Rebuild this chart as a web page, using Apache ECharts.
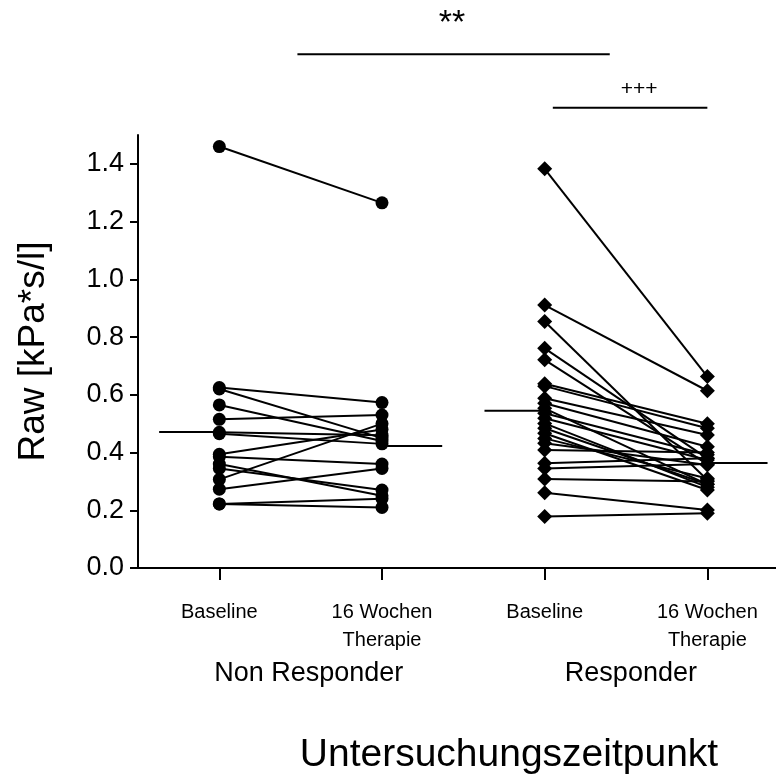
<!DOCTYPE html>
<html>
<head>
<meta charset="utf-8">
<script src="https://cdn.jsdelivr.net/npm/echarts@6/dist/echarts.min.js"></script>
<style>
  html, body { margin: 0; padding: 0; background: #fff; }
  #chart { width: 776px; height: 780px; }
</style>
</head>
<body>
<div id="chart"></div>
<script>
// Airway resistance (Raw) before and after 16 weeks of therapy, paired per patient
const timepoints = ['Baseline', '16 Wochen\nTherapie', 'Baseline', '16 Wochen\nTherapie'];
const groups = ['Non Responder', 'Responder'];
const groupLabelAt = [1.55, 3.53];

const nonResponderBaseline = [1.46, 0.625, 0.62, 0.565, 0.515, 0.47, 0.465, 0.394, 0.385, 0.36, 0.345, 0.307, 0.273, 0.222, 0.222];
const nonResponderWeek16   = [1.265, 0.573, 0.45, 0.44, 0.53, 0.46, 0.43, 0.48, 0.36, 0.25, 0.27, 0.50, 0.345, 0.21, 0.24];

const responderBaseline = [1.383, 0.911, 0.854, 0.761, 0.721, 0.638, 0.63, 0.588, 0.571, 0.553, 0.536, 0.519, 0.501, 0.484, 0.467, 0.449, 0.432, 0.409, 0.363, 0.345, 0.308, 0.261, 0.178];
const responderWeek16   = [0.663, 0.614, 0.305, 0.38, 0.36, 0.50, 0.484, 0.461, 0.42, 0.29, 0.392, 0.374, 0.28, 0.29, 0.27, 0.31, 0.357, 0.40, 0.38, 0.36, 0.30, 0.201, 0.19];

// group means, one per column
const groupMeans = [0.471, 0.423, 0.545, 0.364];

const yTicks = [0, 0.2, 0.4, 0.6, 0.8, 1.0, 1.2, 1.4];

// significance brackets above the plot
const significance = [
  { from: 1.48, to: 3.40, level: 1.78, labelX: 2.43, labelY: 1.885, text: '**', size: 34 },
  { from: 3.05, to: 4.00, level: 1.594, labelX: 3.58, labelY: 1.66, text: '+++', size: 21 }
];

const FONT = '"Liberation Sans", Arial, Helvetica, sans-serif';
const BLACK = '#000';

const chart = echarts.init(document.getElementById('chart'), null, { renderer: 'canvas' });

function pairSeries(before, after, xBefore, symbol, size) {
  return before.map((b, i) => ({
    type: 'line',
    data: [[xBefore, b], [xBefore + 1, after[i]]],
    symbol: symbol,
    symbolSize: size,
    showAllSymbol: true,
    itemStyle: { color: BLACK },
    lineStyle: { color: BLACK, width: 2 },
    animation: false,
    silent: true,
    z: 3
  }));
}

// mean bars sit on the outer side of each column
const meanWidth = 0.37;
const meanSeries = groupMeans.map((m, i) => {
  const x = i + 1;
  const outer = (i % 2 === 0) ? x - meanWidth : x + meanWidth;
  return {
    type: 'line',
    data: [[outer, m], [x, m]],
    symbol: 'none',
    lineStyle: { color: BLACK, width: 2 },
    animation: false,
    silent: true,
    z: 2
  };
});

const sigSeries = significance.map(s => ({
  type: 'line',
  data: [[s.from, s.level], [s.to, s.level]],
  symbol: 'none',
  clip: false,
  lineStyle: { color: BLACK, width: 2 },
  animation: false,
  silent: true
}));

const xMin = 0.5, xMax = 4.422;

chart.setOption({
  backgroundColor: '#fff',
  animation: false,
  textStyle: { fontFamily: FONT, color: BLACK },
  grid: { left: 138, right: 0, top: 135, bottom: 212, containLabel: false },
  xAxis: [
    {
      type: 'value', min: xMin, max: xMax,
      axisLine: { show: true, onZero: false, lineStyle: { color: BLACK, width: 2 } },
      splitLine: { show: false },
      axisTick: { show: true, customValues: [1, 2, 3, 4], length: 12, lineStyle: { color: BLACK, width: 2 } },
      axisLabel: {
        customValues: [1, 2, 3, 4],
        formatter: v => timepoints[Math.round(v) - 1],
        fontSize: 20, lineHeight: 28, margin: 30, color: BLACK, fontFamily: FONT
      }
    },
    {
      type: 'value', min: xMin, max: xMax, position: 'bottom',
      axisLine: { show: false }, axisTick: { show: false }, splitLine: { show: false },
      axisLabel: {
        customValues: groupLabelAt,
        formatter: v => groups[v < 2.5 ? 0 : 1],
        fontSize: 27, margin: 92, color: BLACK, fontFamily: FONT
      }
    }
  ],
  yAxis: {
    type: 'value', min: 0, max: 1.5,
    axisLine: { show: true, lineStyle: { color: BLACK, width: 2 } },
    splitLine: { show: false },
    axisTick: { show: true, customValues: yTicks, length: 8, lineStyle: { color: BLACK, width: 2 } },
    axisLabel: {
      customValues: yTicks,
      formatter: v => v.toFixed(1),
      fontSize: 27, margin: 14, color: BLACK, fontFamily: FONT
    },
    name: 'Raw [kPa*s/l]', nameLocation: 'middle', nameGap: 86, nameRotate: 90,
    nameTextStyle: { fontSize: 37, color: BLACK, fontFamily: FONT }
  },
  series: [
    ...meanSeries,
    ...pairSeries(nonResponderBaseline, nonResponderWeek16, 1, 'circle', 13),
    ...pairSeries(responderBaseline, responderWeek16, 3, 'diamond', 15),
    ...sigSeries
  ]
});

// significance markers and the x-axis title
chart.setOption({
  graphic: significance.map(s => {
    const p = chart.convertToPixel({ gridIndex: 0 }, [s.labelX, s.labelY]);
    return {
      type: 'text', x: p[0], y: p[1],
      style: { text: s.text, fontSize: s.size, fontFamily: FONT, fill: BLACK, align: 'center', verticalAlign: 'middle' }
    };
  }).concat([{
    type: 'text', x: 509, y: 755,
    style: { text: 'Untersuchungszeitpunkt', fontSize: 39, fontFamily: FONT, fill: BLACK, align: 'center', verticalAlign: 'middle' }
  }])
});
</script>
</body>
</html>
